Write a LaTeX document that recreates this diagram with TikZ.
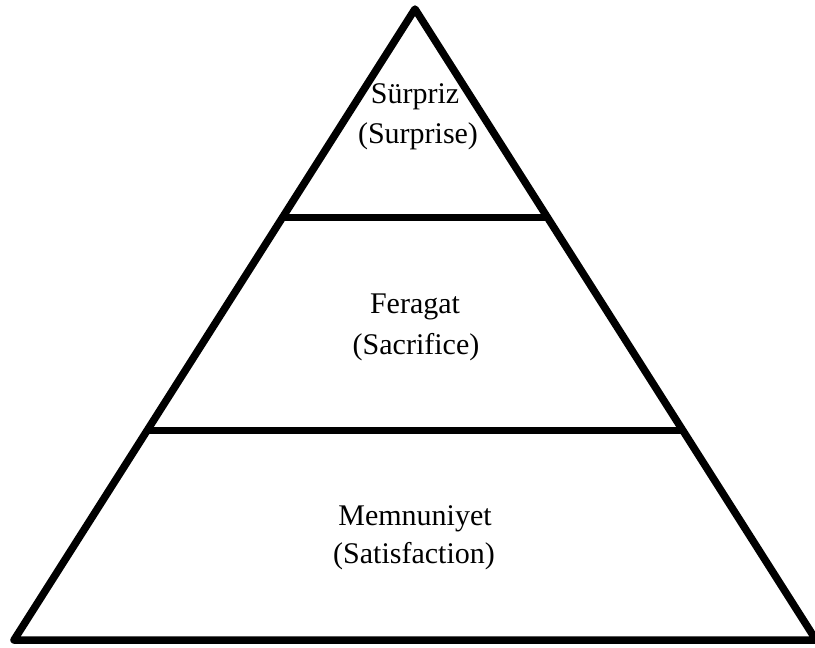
\documentclass[tikz,border=0pt]{standalone}
\usepackage{fontspec}
\setmainfont{Liberation Serif}
\usetikzlibrary{calc}
\tikzset{
	layerline/.style={black, line width=7.5pt, line join=round},
	layertext/.style={anchor=base, inner sep=0pt, font=\fontsize{30}{36}\selectfont}
}

\begin{document}
\begin{tikzpicture}[x=1pt, y=-1pt]
\useasboundingbox (0,0) rectangle (815,648);
\coordinate (apex) at (415,9);
\coordinate (bl) at (14,640);
\coordinate (br) at (816,640);
\coordinate (a1) at ($(apex)!0.3307!(bl)$);
\coordinate (b1) at ($(apex)!0.3307!(br)$);
\coordinate (a2) at ($(apex)!0.668!(bl)$);
\coordinate (b2) at ($(apex)!0.668!(br)$);
\draw [layerline] (apex) -- (bl) -- (br) -- cycle;
\draw [layerline] (a1) -- (b1);
\draw [layerline] (a2) -- (b2);

  \node [layertext] (topTR) at (415,103) {Sürpriz};
  \node [layertext] (topEN) at (418,143) {(Surprise)};
  \node [layertext] (midTR) at (415,313) {Feragat};
  \node [layertext] (midEN) at (416,354) {(Sacrifice)};
  \node [layertext] (botTR) at (415,525) {Memnuniyet};
  \node [layertext] (botEN) at (414,563) {(Satisfaction)};
\end{tikzpicture}
\end{document}
